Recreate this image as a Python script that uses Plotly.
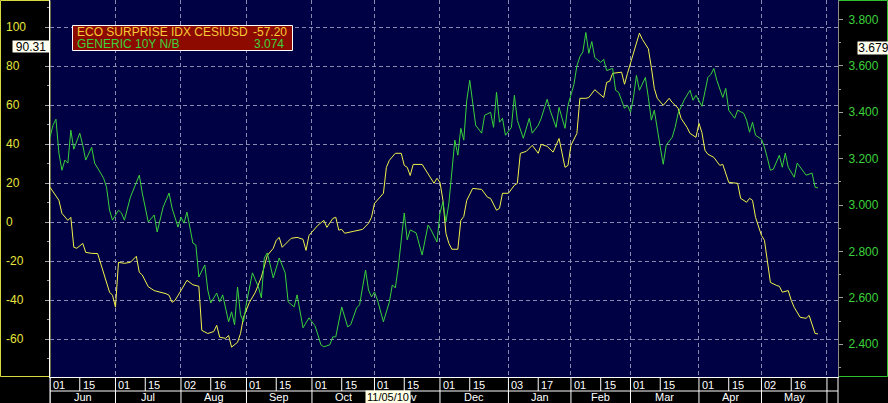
import numpy as np
import pandas as pd
import plotly.graph_objects as go

# ---------------- data ----------------
eco_dates = [
    "2010-06-01", "2010-06-04", "2010-06-07", "2010-06-09", "2010-06-10", "2010-06-11", "2010-06-14",
    "2010-06-16", "2010-06-17", "2010-06-21", "2010-06-23", "2010-06-24", "2010-06-25", "2010-06-29",
    "2010-06-30", "2010-07-01", "2010-07-02", "2010-07-06", "2010-07-08", "2010-07-12", "2010-07-13",
    "2010-07-14", "2010-07-16", "2010-07-20", "2010-07-26", "2010-07-27", "2010-07-28", "2010-07-29",
    "2010-08-02", "2010-08-04", "2010-08-06", "2010-08-10", "2010-08-11", "2010-08-13", "2010-08-17",
    "2010-08-18", "2010-08-19", "2010-08-23", "2010-08-24", "2010-08-25", "2010-08-27", "2010-08-30",
    "2010-08-31", "2010-09-02", "2010-09-06", "2010-09-08", "2010-09-10", "2010-09-14", "2010-09-15",
    "2010-09-16", "2010-09-17", "2010-09-22", "2010-09-24", "2010-09-28", "2010-09-29", "2010-09-30",
    "2010-10-05", "2010-10-07", "2010-10-08", "2010-10-12", "2010-10-13", "2010-10-14", "2010-10-15",
    "2010-10-18", "2010-10-21", "2010-10-26", "2010-10-28", "2010-10-29", "2010-11-01", "2010-11-03",
    "2010-11-04", "2010-11-05", "2010-11-08", "2010-11-10", "2010-11-12", "2010-11-15", "2010-11-16",
    "2010-11-17", "2010-11-18", "2010-11-23", "2010-11-25", "2010-11-26", "2010-11-29", "2010-11-30",
    "2010-12-01", "2010-12-02", "2010-12-03", "2010-12-06", "2010-12-07", "2010-12-09", "2010-12-10",
    "2010-12-13", "2010-12-14", "2010-12-16", "2010-12-21", "2010-12-23", "2010-12-24", "2010-12-28",
    "2010-12-29", "2010-12-30", "2011-01-03", "2011-01-05", "2011-01-06", "2011-01-07", "2011-01-11",
    "2011-01-13", "2011-01-17", "2011-01-18", "2011-01-20", "2011-01-24", "2011-01-26", "2011-01-28",
    "2011-01-31", "2011-02-01", "2011-02-02", "2011-02-03", "2011-02-04", "2011-02-08", "2011-02-09",
    "2011-02-11", "2011-02-16", "2011-02-17", "2011-02-18", "2011-02-21", "2011-02-24", "2011-02-25",
    "2011-02-28", "2011-03-02", "2011-03-03", "2011-03-04", "2011-03-07", "2011-03-09", "2011-03-10",
    "2011-03-11", "2011-03-14", "2011-03-16", "2011-03-18", "2011-03-21", "2011-03-23", "2011-03-24",
    "2011-03-28", "2011-03-29", "2011-03-31", "2011-04-01", "2011-04-04", "2011-04-05", "2011-04-06",
    "2011-04-08", "2011-04-12", "2011-04-13", "2011-04-15", "2011-04-20", "2011-04-21", "2011-04-25",
    "2011-04-26", "2011-04-27", "2011-04-28", "2011-05-02", "2011-05-03", "2011-05-04", "2011-05-05",
    "2011-05-09", "2011-05-10", "2011-05-11", "2011-05-13", "2011-05-16", "2011-05-17", "2011-05-19",
    "2011-05-23", "2011-05-24", "2011-05-26", "2011-05-27",
]
eco_values = [
    18.0, 11.3, 4.6, 1.0, 2.6, -12.8, -13.3,
    -10.8, -15.4, -15.9, -16.0, -21.0, -26.0, -35.8,
    -37.4, -43.5, -20.5, -21.0, -20.5, -17.4, -25.6,
    -27.0, -33.0, -35.0, -36.6, -37.4, -41.0, -40.0,
    -35.0, -29.7, -32.0, -32.8, -55.4, -57.0, -56.0,
    -52.8, -58.9, -59.5, -58.0, -64.0, -61.5, -57.0,
    -48.7, -41.0, -35.8, -28.0, -17.0, -13.3, -9.2,
    -7.7, -12.8, -8.2, -7.7, -8.7, -14.4, -6.7,
    -1.5, 1.0, -2.6, 2.0, 2.6, -4.0, -3.6,
    -5.6, -4.6, -3.6, -0.5, 2.6, 9.7, 12.8,
    14.9, 28.2, 31.8, 35.4, 35.4, 29.2, 28.2,
    24.0, 29.7, 29.7, 25.0, 23.0, 20.0, 22.6,
    20.5, 11.3, -5.6, -10.8, -13.8, -13.8, 1.0,
    3.0, 11.3, 17.4, 16.9, 12.8, 12.3, 6.2,
    7.2, 14.9, 14.9, 19.0, 20.0, 35.4, 36.4,
    39.5, 35.4, 40.0, 39.0, 36.0, 43.0, 28.2,
    29.2, 39.5, 43.0, 45.6, 63.6, 63.6, 64.0,
    68.0, 64.0, 71.8, 72.3, 76.4, 77.0, 70.8,
    76.4, 86.7, 91.8, 97.0, 93.8, 89.0, 79.5,
    68.7, 63.6, 60.0, 63.6, 61.5, 58.5, 53.3,
    48.7, 45.6, 43.6, 50.8, 46.0, 37.0, 34.9,
    33.3, 29.2, 29.7, 20.5, 20.0, 12.3, 10.3,
    12.3, 11.3, 2.6, -6.7, -9.2, -19.5, -30.8,
    -32.3, -32.8, -35.8, -35.0, -40.0, -43.6, -48.7,
    -49.2, -47.7, -57.0, -57.2,
]

ust_dates = [
    "2010-06-01", "2010-06-02", "2010-06-03", "2010-06-04", "2010-06-07", "2010-06-08", "2010-06-09",
    "2010-06-10", "2010-06-11", "2010-06-15", "2010-06-16", "2010-06-17", "2010-06-21", "2010-06-22",
    "2010-06-24", "2010-06-25", "2010-06-28", "2010-06-29", "2010-06-30", "2010-07-02", "2010-07-05",
    "2010-07-06", "2010-07-08", "2010-07-09", "2010-07-13", "2010-07-14", "2010-07-16", "2010-07-20",
    "2010-07-21", "2010-07-23", "2010-07-27", "2010-07-28", "2010-07-30", "2010-08-02", "2010-08-03",
    "2010-08-04", "2010-08-06", "2010-08-09", "2010-08-10", "2010-08-12", "2010-08-13", "2010-08-16",
    "2010-08-18", "2010-08-19", "2010-08-20", "2010-08-24", "2010-08-25", "2010-08-26", "2010-08-27",
    "2010-08-30", "2010-08-31", "2010-09-01", "2010-09-03", "2010-09-07", "2010-09-08", "2010-09-09",
    "2010-09-10", "2010-09-14", "2010-09-16", "2010-09-20", "2010-09-21", "2010-09-23", "2010-09-24",
    "2010-09-28", "2010-09-30", "2010-10-01", "2010-10-04", "2010-10-05", "2010-10-06", "2010-10-07",
    "2010-10-11", "2010-10-12", "2010-10-13", "2010-10-15", "2010-10-18", "2010-10-19", "2010-10-20",
    "2010-10-22", "2010-10-25", "2010-10-27", "2010-10-28", "2010-10-29", "2010-11-01", "2010-11-02",
    "2010-11-04", "2010-11-05", "2010-11-08", "2010-11-09", "2010-11-10", "2010-11-11", "2010-11-12",
    "2010-11-15", "2010-11-16", "2010-11-17", "2010-11-19", "2010-11-23", "2010-11-25", "2010-11-26",
    "2010-11-30", "2010-12-01", "2010-12-02", "2010-12-03", "2010-12-06", "2010-12-07", "2010-12-08",
    "2010-12-09", "2010-12-10", "2010-12-13", "2010-12-14", "2010-12-15", "2010-12-16", "2010-12-17",
    "2010-12-21", "2010-12-22", "2010-12-24", "2010-12-27", "2010-12-28", "2010-12-29", "2010-12-30",
    "2010-12-31", "2011-01-04", "2011-01-05", "2011-01-06", "2011-01-10", "2011-01-12", "2011-01-13",
    "2011-01-17", "2011-01-18", "2011-01-20", "2011-01-21", "2011-01-25", "2011-01-26", "2011-01-28",
    "2011-01-31", "2011-02-02", "2011-02-03", "2011-02-04", "2011-02-07", "2011-02-08", "2011-02-09",
    "2011-02-10", "2011-02-11", "2011-02-15", "2011-02-16", "2011-02-17", "2011-02-21", "2011-02-22",
    "2011-02-23", "2011-02-24", "2011-02-25", "2011-02-28", "2011-03-01", "2011-03-02", "2011-03-03",
    "2011-03-04", "2011-03-08", "2011-03-09", "2011-03-10", "2011-03-11", "2011-03-14", "2011-03-15",
    "2011-03-16", "2011-03-17", "2011-03-21", "2011-03-22", "2011-03-23", "2011-03-25", "2011-03-29",
    "2011-03-30", "2011-03-31", "2011-04-04", "2011-04-06", "2011-04-07", "2011-04-08", "2011-04-11",
    "2011-04-13", "2011-04-14", "2011-04-15", "2011-04-19", "2011-04-20", "2011-04-22", "2011-04-25",
    "2011-04-26", "2011-04-27", "2011-04-28", "2011-05-02", "2011-05-03", "2011-05-04", "2011-05-05",
    "2011-05-06", "2011-05-10", "2011-05-11", "2011-05-12", "2011-05-13", "2011-05-17", "2011-05-18",
    "2011-05-19", "2011-05-23", "2011-05-25", "2011-05-26", "2011-05-27",
]
ust_values = [
    3.292, 3.344, 3.370, 3.224, 3.150, 3.194, 3.181,
    3.323, 3.241, 3.310, 3.258, 3.194, 3.249, 3.181,
    3.138, 3.116, 3.077, 2.978, 2.935, 2.978, 2.966,
    2.935, 3.034, 3.065, 3.129, 3.052, 2.927, 2.957,
    2.884, 2.991, 3.052, 2.987, 2.905, 2.948, 2.922,
    2.970, 2.836, 2.828, 2.690, 2.742, 2.634, 2.578,
    2.621, 2.583, 2.613, 2.497, 2.540, 2.484, 2.647,
    2.527, 2.497, 2.578, 2.708, 2.647, 2.600, 2.772,
    2.794, 2.686, 2.772, 2.708, 2.583, 2.561, 2.613,
    2.471, 2.514, 2.497, 2.480, 2.441, 2.398, 2.389,
    2.398, 2.432, 2.432, 2.561, 2.514, 2.475, 2.484,
    2.557, 2.570, 2.720, 2.634, 2.604, 2.626, 2.591,
    2.497, 2.540, 2.583, 2.656, 2.643, 2.733, 2.850,
    2.966, 2.850, 2.893, 2.880, 2.785, 2.914, 2.893,
    2.841, 2.966, 3.013, 2.927, 3.009, 3.163, 3.280,
    3.215, 3.331, 3.280, 3.452, 3.538, 3.452, 3.344,
    3.310, 3.387, 3.400, 3.335, 3.486, 3.357, 3.374,
    3.301, 3.335, 3.473, 3.365, 3.288, 3.374, 3.310,
    3.344, 3.374, 3.456, 3.409, 3.335, 3.421, 3.331,
    3.430, 3.520, 3.600, 3.640, 3.660, 3.744, 3.654,
    3.705, 3.636, 3.615, 3.628, 3.580, 3.589, 3.495,
    3.486, 3.452, 3.417, 3.430, 3.400, 3.464, 3.559,
    3.495, 3.550, 3.464, 3.366, 3.409, 3.322, 3.250,
    3.176, 3.258, 3.292, 3.335, 3.396, 3.452, 3.495,
    3.452, 3.473, 3.426, 3.550, 3.563, 3.589, 3.538,
    3.464, 3.503, 3.409, 3.374, 3.409, 3.396, 3.366,
    3.314, 3.357, 3.301, 3.284, 3.250, 3.202, 3.150,
    3.155, 3.215, 3.163, 3.224, 3.163, 3.120, 3.181,
    3.163, 3.129, 3.138, 3.077, 3.074,
]

eco_name = "ECO SURPRISE IDX CESIUSD"
eco_last = "-57.20"
ust_name = "GENERIC 10Y N/B"
ust_last = "3.074"

left_ticks = [-60, -40, -20, 0, 20, 40, 60, 80, 100]
right_ticks = [2.4, 2.6, 2.8, 3.0, 3.2, 3.4, 3.6, 3.8]
right_tick_text = ["2.400", "2.600", "2.800", "3.000", "3.200", "3.400", "3.600", "3.800"]

month_starts = ["2010-06-01", "2010-07-01", "2010-08-02", "2010-09-01", "2010-10-01", "2010-11-01",
                "2010-12-01", "2011-01-03", "2011-02-01", "2011-03-01", "2011-04-01", "2011-05-02",
                "2011-06-01"]
month_names = ["Jun", "Jul", "Aug", "Sep", "Oct", "Nov", "Dec", "Jan", "Feb", "Mar", "Apr", "May"]
start_labels = ["01", "01", "02", "01", "01", "01", "01", "03", "01", "01", "01", "02"]
mid_dates = ["2010-06-15", "2010-07-15", "2010-08-16", "2010-09-15", "2010-10-15", "2010-11-15",
             "2010-12-15", "2011-01-17", "2011-02-15", "2011-03-15", "2011-04-15", "2011-05-16"]
mid_labels = ["15", "15", "16", "15", "15", "15", "15", "17", "15", "15", "15", "16"]

cursor_left = 90.31
cursor_right = 3.679
cursor_date = "2010-11-05 12:00"
cursor_date_text = "11/05/10"

# ---------------- style ----------------
W, H = 888, 403
ML, MR, MT, MB = 50, 50, 0, 26
PW, PH = W - ML - MR, H - MT - MB
FONT = "Liberation Sans, Arial, sans-serif"
NAVY = "#000045"
GRID = "#8a8ab0"
YEL = "#f2f24a"
GRN = "#3ad23a"
YEL_TXT = "#e6e63c"
GRN_TXT = "#3cd23c"


def px(xp):
    return (xp - ML) / PW


def py(yp):
    return (H - MB - yp) / PH


fig = go.Figure()
fig.add_trace(go.Scatter(x=eco_dates, y=eco_values, mode="lines", name=eco_name,
                         line=dict(color=YEL, width=1), yaxis="y"))
fig.add_trace(go.Scatter(x=ust_dates, y=ust_values, mode="lines", name=ust_name,
                         line=dict(color=GRN, width=1), yaxis="y2"))

shapes = []
annotations = []

# left/right panels
shapes.append(dict(type="rect", xref="paper", yref="paper", x0=px(0.5), x1=px(50), y0=py(376.5), y1=py(0.5),
                   line=dict(color="#d8d840", width=1), layer="below"))
shapes.append(dict(type="rect", xref="paper", yref="paper", x0=px(838.5), x1=px(887.5), y0=py(376.5), y1=py(0.5),
                   line=dict(color="#30c030", width=1), layer="below"))

# bottom date rows
ROW1 = py(391)
ROW2 = py(403)
shapes.append(dict(type="line", xref="paper", yref="paper", x0=0, x1=1, y0=ROW1, y1=ROW1,
                   line=dict(color="white", width=1)))
shapes.append(dict(type="line", xref="paper", yref="paper", x0=0, x1=0, y0=0, y1=ROW2,
                   line=dict(color="white", width=1)))
shapes.append(dict(type="line", xref="paper", yref="paper", x0=1, x1=1, y0=0, y1=ROW2,
                   line=dict(color="white", width=1)))
for d in month_starts:
    shapes.append(dict(type="line", xref="x", yref="paper", x0=d, x1=d, y0=0, y1=ROW2,
                       line=dict(color="white", width=1)))
for d in mid_dates:
    shapes.append(dict(type="line", xref="x", yref="paper", x0=d, x1=d, y0=0, y1=ROW1,
                       line=dict(color="white", width=1)))

for d, t in list(zip(month_starts[:-1], start_labels)) + list(zip(mid_dates, mid_labels)):
    annotations.append(dict(x=d, xref="x", y=py(384.5), yref="paper", text=t, showarrow=False,
                            xanchor="left", yanchor="middle", xshift=1, height=13,
                            font=dict(family=FONT, size=11, color="white")))

for a, b, name in zip(month_starts[:-1], month_starts[1:], month_names):
    n = int(np.busday_count(a, b))
    half = n / 2.0
    d0 = np.busday_offset(a, int(half), roll="forward")
    center = pd.Timestamp(d0) + pd.Timedelta(hours=24 * (half - int(half)))
    annotations.append(dict(x=center.strftime("%Y-%m-%d %H:%M"), xref="x", y=py(397), yref="paper",
                            text=name, showarrow=False, xanchor="center", yanchor="middle", height=12,
                            font=dict(family=FONT, size=11, color="white")))

# left tick labels (left aligned)
for v in left_ticks:
    annotations.append(dict(x=px(4), xref="paper", y=v, yref="y", text=str(v), showarrow=False,
                            xanchor="left", yanchor="middle",
                            font=dict(family=FONT, size=12, color=YEL_TXT)))

# legend box
shapes.append(dict(type="rect", xref="paper", yref="paper", x0=px(72.5), x1=px(292.5), y0=py(50.5), y1=py(25.5),
                   fillcolor="#8c0a00", line=dict(color="white", width=1), layer="above"))
annotations.append(dict(x=px(75), xref="paper", y=py(32.5), yref="paper", text=eco_name, showarrow=False,
                        xanchor="left", yanchor="middle", height=10,
                        font=dict(family=FONT, size=12, color="#f8c838")))
annotations.append(dict(x=px(288.5), xref="paper", y=py(32.5), yref="paper", text=eco_last, showarrow=False,
                        xanchor="right", yanchor="middle", height=10,
                        font=dict(family=FONT, size=12, color="#f8c838")))
annotations.append(dict(x=px(75), xref="paper", y=py(43.5), yref="paper", text=ust_name, showarrow=False,
                        xanchor="left", yanchor="middle", height=10,
                        font=dict(family=FONT, size=12, color=GRN_TXT)))
annotations.append(dict(x=px(285.5), xref="paper", y=py(43.5), yref="paper", text=ust_last, showarrow=False,
                        xanchor="right", yanchor="middle", height=10,
                        font=dict(family=FONT, size=12, color=GRN_TXT)))

# cursor value boxes
annotations.append(dict(x=px(50), xref="paper", y=cursor_left, yref="y", text=f"{cursor_left:.2f}",
                        showarrow=False, xanchor="right", yanchor="middle", width=36, height=11,
                        bgcolor="#fffff0", borderpad=0, font=dict(family=FONT, size=12, color="black")))
annotations.append(dict(x=px(857), xref="paper", y=cursor_right, yref="y2", text=f"{cursor_right:.3f}",
                        showarrow=False, xanchor="left", yanchor="middle", width=31, height=12,
                        bgcolor="#fffff0", borderpad=0, font=dict(family=FONT, size=12, color="black")))
annotations.append(dict(x=cursor_date, xref="x", y=py(396.5), yref="paper", text=cursor_date_text,
                        showarrow=False, xanchor="center", yanchor="middle", width=44, height=12,
                        bgcolor="#ffffe6", borderpad=0, font=dict(family=FONT, size=11, color="black")))

fig.update_layout(
    width=W, height=H, autosize=False,
    margin=dict(l=ML, r=MR, t=MT, b=MB, pad=0),
    paper_bgcolor="black", plot_bgcolor=NAVY,
    showlegend=False,
    xaxis=dict(type="date", range=["2010-06-01", "2011-06-06 17:00"],
               rangebreaks=[dict(bounds=["sat", "mon"])],
               tickmode="array", tickvals=month_starts, showticklabels=False, ticks="",
               showgrid=True, gridcolor=GRID, gridwidth=1, griddash="4px,3px",
               showline=True, linecolor="white", linewidth=1, zeroline=False, fixedrange=True),
    yaxis=dict(range=[-79.3, 114.0], tickmode="array", tickvals=left_ticks, showticklabels=False,
               ticks="outside", ticklen=4, tickcolor="#a0a0a0", tickwidth=1,
               showgrid=True, gridcolor=GRID, gridwidth=1, griddash="4px,3px",
               showline=True, linecolor="white", linewidth=1, zeroline=False, automargin=False,
               minor=dict(tickmode="linear", tick0=0, dtick=10, ticks="outside", ticklen=2,
                          tickcolor="#a0a0a0", showgrid=False)),
    yaxis2=dict(range=[2.259, 3.884], overlaying="y", side="right", tickmode="array",
                tickvals=right_ticks, ticktext=right_tick_text,
                tickfont=dict(family=FONT, size=12, color=GRN_TXT),
                ticks="outside", ticklen=4, tickcolor="#a0a0a0", tickwidth=1, ticklabelstandoff=3,
                showgrid=False, showline=True, linecolor="#8c8c8c", linewidth=1, zeroline=False,
                automargin=False,
                minor=dict(tickmode="linear", tick0=2.4, dtick=0.1, ticks="outside", ticklen=2,
                           tickcolor="#a0a0a0", showgrid=False)),
    shapes=shapes,
    annotations=annotations,
)

fig.write_html(
    "out.html",
    config={"displayModeBar": False},
    post_script="document.body.style.margin='0';document.body.style.padding='0';"
                "document.body.style.overflow='hidden';document.body.style.background='black';",
)
